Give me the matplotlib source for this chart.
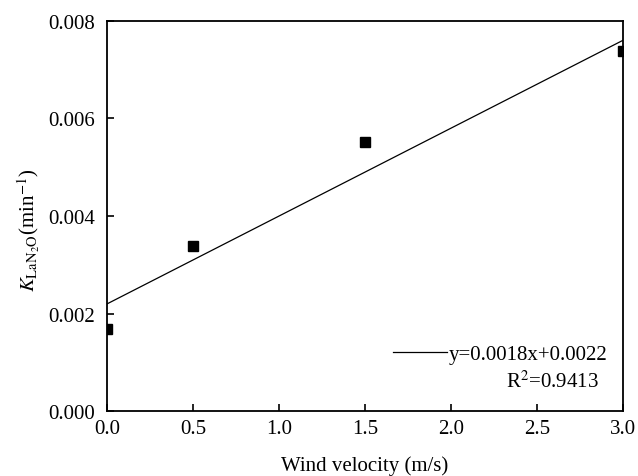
import matplotlib
matplotlib.use('Agg')
import matplotlib.pyplot as plt
import numpy as np

plt.rcParams['font.family'] = ['Liberation Serif', 'DejaVu Serif']
plt.rcParams['mathtext.fontset'] = 'stix'

# rate constant vs wind velocity
wind_speed = [0.0, 0.5, 1.5, 3.0]
k_values = [0.00168, 0.00339, 0.00551, 0.00739]

# linear fit reported on the plot
slope = 0.0018
intercept = 0.0022
fit_label = 'y=0.0018x+0.0022'
r2_label = r'R$^2$=0.9413'

fig = plt.figure(figsize=(6.38, 4.77), dpi=100)
ax = fig.add_axes([0.168, 0.136, 0.808, 0.818])

ax.plot(wind_speed, k_values, 's', color='black', markersize=6.5, clip_on=True, zorder=3)
xf = np.array([0.0, 3.0])
line, = ax.plot(xf, slope * xf + intercept, color='black', linewidth=0.9, label=fit_label)

ax.set_xlim(0, 3.0)
ax.set_ylim(0, 0.008)
ax.set_xticks(np.arange(0, 3.01, 0.5))
ax.set_yticks(np.arange(0, 0.0081, 0.002))
ax.xaxis.set_major_formatter(matplotlib.ticker.FormatStrFormatter('%.1f'))
ax.yaxis.set_major_formatter(matplotlib.ticker.FormatStrFormatter('%.3f'))
ax.tick_params(direction='in', length=5, width=1.2, labelsize=15, top=False, right=False)
ax.tick_params(axis='y', pad=9)
ax.tick_params(axis='x', pad=6)
for s in ax.spines.values():
    s.set_linewidth(1.3)

ax.set_xlabel('Wind velocity (m/s)', fontsize=15, labelpad=12)
ax.set_ylabel(r'$K_{\mathrm{LaN_2O}}$(min$^{-1}$)', fontsize=15)
ax.yaxis.set_label_coords(-0.126, 0.465)

leg = ax.legend(handles=[line], loc='lower right', frameon=False, fontsize=15,
                bbox_to_anchor=(0.995, 0.088), handlelength=2.6, handletextpad=0.1,
                borderaxespad=0.2)
ax.text(0.953, 0.077, r2_label, transform=ax.transAxes, ha='right', va='center', fontsize=15)

fig.savefig('out.png', dpi=100)
